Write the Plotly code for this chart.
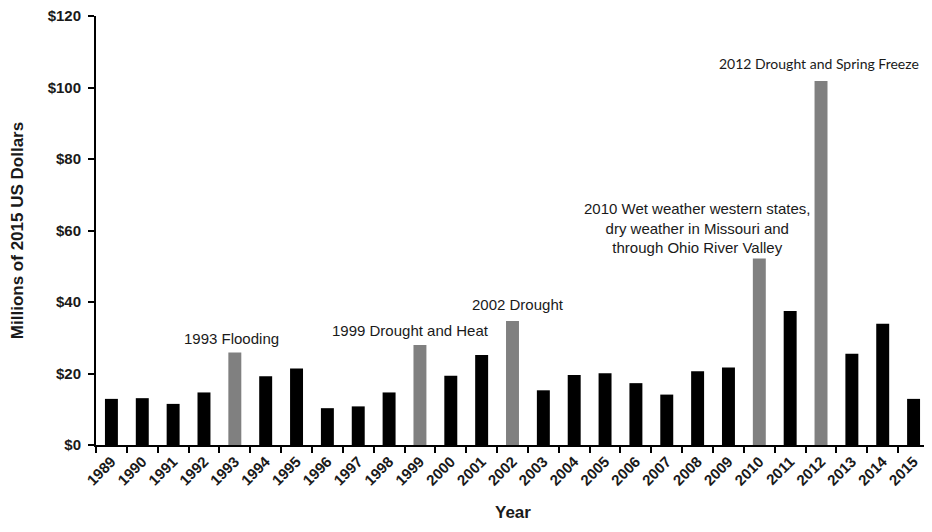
import plotly.graph_objects as go

years = [str(y) for y in range(1989, 2016)]
values = [12.9, 13.1, 11.5, 14.7, 25.9, 19.2, 21.4, 10.3, 10.8, 14.7,
          28.0, 19.4, 25.2, 34.7, 15.3, 19.6, 20.1, 17.3, 14.1, 20.6,
          21.7, 52.2, 37.5, 101.8, 25.5, 33.9, 12.9]
event_years = ["1993", "1999", "2002", "2010", "2012"]
event_labels = ["1993 Flooding", "1999 Drought and Heat", "2002 Drought",
                "2010 Wet weather western states,<br>dry weather in Missouri and<br>through Ohio River Valley",
                "2012 Drought and Spring Freeze"]
y_ticks = [0, 20, 40, 60, 80, 100, 120]
y_tick_labels = ["$" + str(v) for v in y_ticks]

colors = ["#808080" if y in event_years else "#000000" for y in years]

fig = go.Figure()
fig.add_trace(go.Bar(x=years, y=values, marker=dict(color=colors, line=dict(width=0)),
                     width=0.42, showlegend=False))

xshifts = [-3, -9, 5, -62, -2]
yshifts = [3, 4, 6, 0, 7]
fonts = ["Liberation Sans", "Liberation Sans", "Liberation Sans", "Liberation Sans", "Lato"]
sizes = [15, 15, 15, 15, 14]
for yr, lab, xs, ys, fn, fs in zip(event_years, event_labels, xshifts, yshifts, fonts, sizes):
    idx = years.index(yr)
    fig.add_annotation(x=idx, y=values[idx], xref="x", yref="y", text=lab, showarrow=False,
                       xanchor="center", yanchor="bottom", xshift=xs, yshift=ys,
                       align="center", font=dict(family=fn, size=fs, color="#1a1a1a"))

# x-axis title placed as a paper annotation
fig.add_annotation(x=0.5, y=0, xref="paper", yref="paper", text="<b>Year</b>", showarrow=False,
                   xanchor="center", yanchor="middle", yshift=-67,
                   font=dict(family="Liberation Sans", size=17, color="#1a1a1a"))

fig.update_layout(
    width=924, height=516,
    margin=dict(l=88, r=3, t=8, b=79),
    plot_bgcolor="white", paper_bgcolor="white",
    font=dict(family="Liberation Sans", color="#1a1a1a"),
)
fig.update_xaxes(
    type="category", range=[-0.5, 26.5], automargin=False,
    showline=True, linecolor="black", linewidth=2,
    ticks="outside", tickson="boundaries", ticklen=6, tickcolor="black", tickwidth=2,
    tickangle=-45, tickfont=dict(family="Liberation Sans", size=15, color="#1a1a1a", weight="bold"),
    ticklabeloverflow="allow",
    showgrid=False,
)
fig.update_yaxes(
    range=[0, 120], tickvals=y_ticks, ticktext=y_tick_labels, automargin=False,
    showline=True, linecolor="black", linewidth=2,
    ticks="outside", ticklen=6, tickcolor="black", tickwidth=2,
    tickfont=dict(family="Liberation Sans", size=15, color="#1a1a1a", weight="bold"),
    ticklabelstandoff=4, ticklabeloverflow="allow",
    showgrid=False, zeroline=False,
    title=dict(text="<b>Millions of 2015 US Dollars</b>", font=dict(family="Liberation Sans", size=17, color="#1a1a1a"), standoff=20),
)

fig.write_html("out.html")
